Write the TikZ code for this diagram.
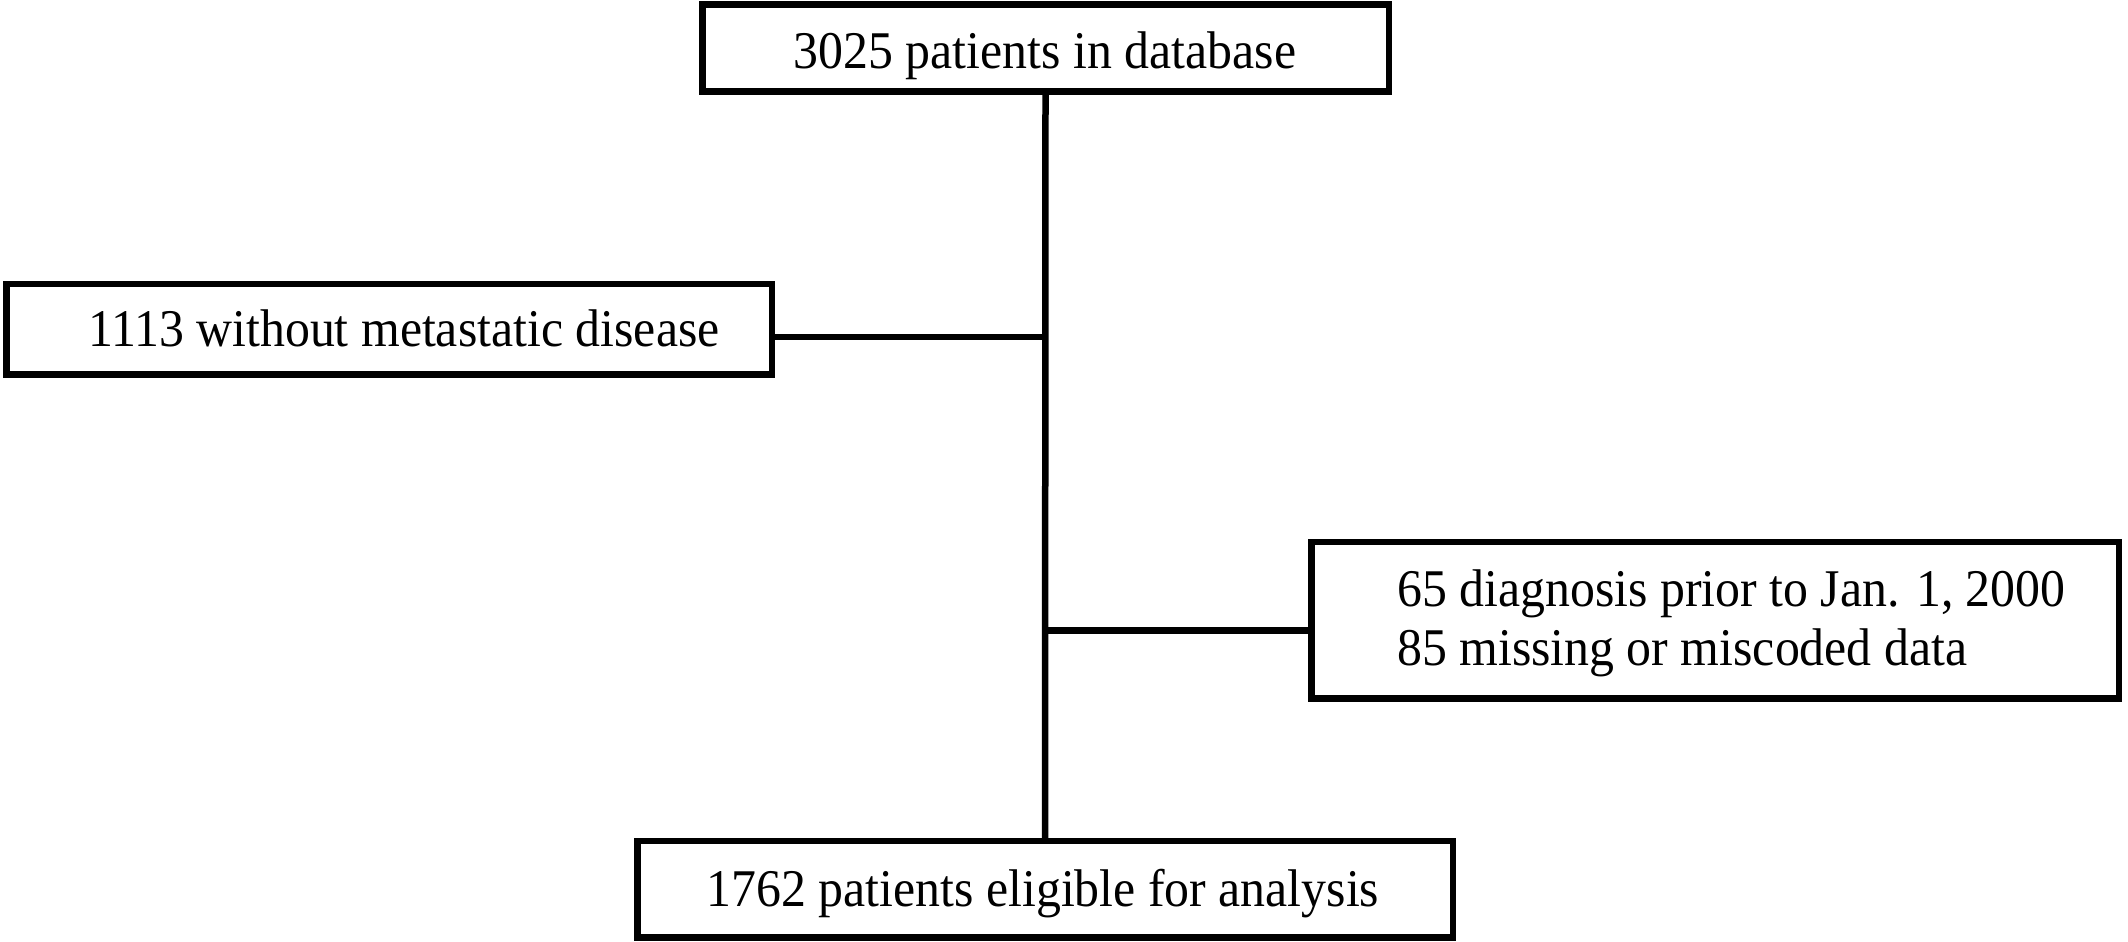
\documentclass[tikz,border=0pt]{standalone}
\usepackage{fontspec}
\setmainfont{Liberation Serif}[FakeStretch=0.94]

\begin{document}
\begin{tikzpicture}[
    x=1pt, y=1pt,
    box/.style={
        draw, line width=6.5pt, inner sep=0pt
    },
    txt/.style={
        inner sep=0pt, font=\fontsize{53pt}{59pt}\selectfont
    },
    link/.style={
        line width=6.5pt
    }
]
    \useasboundingbox (0,0) rectangle (2128,942);

    % boxes
    \node[box, minimum width=686.5pt, minimum height=87pt] (db) at (1045.5,894) {};
    \node[box, minimum width=765.5pt, minimum height=90.5pt] (nomet) at (389,612.5) {};
    \node[box, minimum width=807.5pt, minimum height=156.5pt] (excl) at (1715,321.5) {};
    \node[box, minimum width=815.5pt, minimum height=96.5pt] (elig) at (1045,52.5) {};

    % texts
    \node[txt, anchor=base] (dbtxt) at (1045,873) {3025 patients in database};
    \node[txt, anchor=base west] (nomettxt) at (88,595) {1113 without metastatic disease};
    \node[txt, anchor=base west] (exclone) at (1397,335) {65 diagnosis prior to Jan. 1, 2000};
    \node[txt, anchor=base west] (excltwo) at ([yshift=-59pt]exclone.base west) {85 missing or miscoded data};
    \node[txt, anchor=base] (eligtxt) at (1043,35) {1762 patients eligible for analysis};

    % connectors
    \coordinate (jl) at (1045,605);
    \coordinate (jr) at (1045,311.5);
    \draw[link] (db.south) -- (elig.north);
    \draw[link] (nomet.east |- jl) -- (jl);
    \draw[link] (jr) -- (jr -| excl.west);
\end{tikzpicture}
\end{document}
